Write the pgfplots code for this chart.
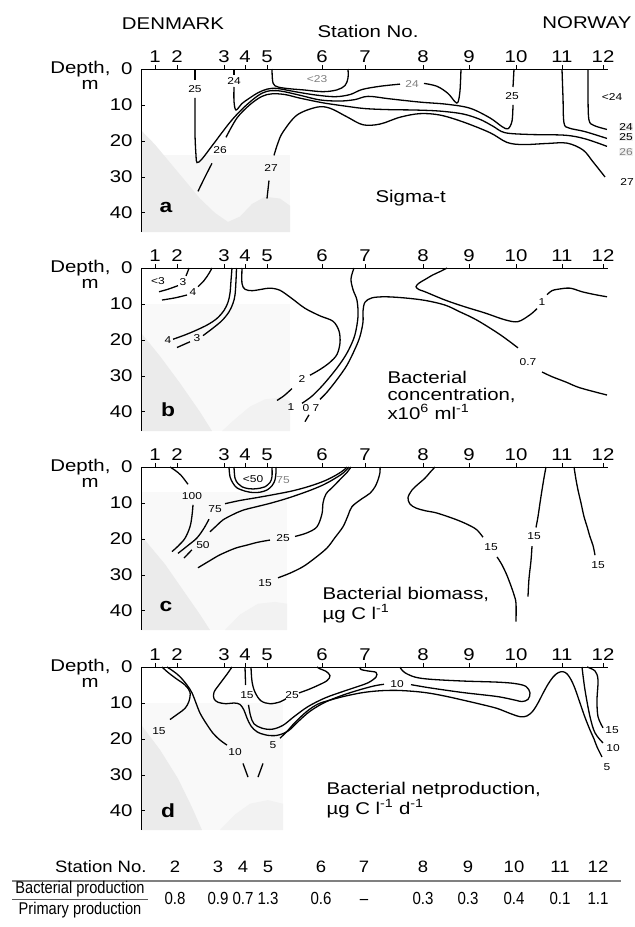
\documentclass[border=0pt]{standalone}
\usepackage{fontspec}
\setmainfont{Liberation Sans}[FakeStretch=1.2]
\newfontfamily\tabfont{Liberation Sans}[FakeStretch=1.12]
\newfontfamily\condfont{Liberation Sans}[FakeStretch=0.86]
\usepackage{pgfplots}
\pgfplotsset{compat=1.18}

\newcommand{\mainsize}{\fontsize{17}{19}\selectfont}
\pgfplotsset{
  section/.style={
    scale only axis, width=467pt, height=163pt,
    xmin=141, xmax=608, ymin=0, ymax=45.3, y dir=reverse,
    axis x line*=top, axis y line*=left,
    axis line style={-, line width=1pt},
    xtick={155,177,224,245,267,322,365,423,469,516,562,603},
    xticklabels={1,2,3,4,5,6,7,8,9,10,11,12},
    ytick={0,10,20,30,40},
    xtick align=outside, ytick align=inside,
    major tick length=4pt,
    tick style={black, line width=0.9pt},
    tick label style={font=\mainsize},
    /pgf/number format/assume math mode=true,
    yticklabel style={xshift=-5pt},
    xticklabel style={yshift=-1pt},
    clip=false, axis on top,
  },
  ctr/.style={black, line width=1.3pt, smooth, tension=0.55, no marks},
  land/.style={draw=none, fill=gray!#1, no marks},
}
\tikzset{lbl/.style={font=\fontsize{10}{11}\selectfont, inner sep=0.5pt}}

\begin{document}
\begin{tikzpicture}
\begin{scope}[x=1pt, y=-1pt]
  \path[use as bounding box] (0,0) rectangle (634,927);
  \node[font=\mainsize] at (173,24) {DENMARK};
  \node[font=\mainsize] at (368,31) {Station No.};
  \node[font=\mainsize] at (587,23) {NORWAY};
  \foreach \t in {69,268,467,667} {
    \node[font=\mainsize, anchor=east] at (114,\t) {Depth,};
    \node[font=\mainsize] at (90,\t+16) {m};
  }
\end{scope}

% ---------------- a: sigma-t ----------------
\begin{axis}[section, at={(141pt,-69pt)}, anchor=north west]
  \addplot[land=6] coordinates {(141,24) (290,24) (290,45.3) (141,45.3)} -- cycle;
  \addplot[land=16] coordinates {(141,17) (155,21) (170,26) (185,31) (200,36) (215,40) (228,42.5) (240,41) (252,37.5) (265,35.5) (280,36) (290,38) (290,45.3) (141,45.3)} -- cycle;
  % 23
  \addplot[ctr] coordinates {(272,0) (273,3.9) (278,5.0) (290,5.5) (303,5.8) (323,6.3) (337,5.8) (345,4.6) (348,2.5) (348,0)};
  % 24
  \addplot[ctr] coordinates {(234,0) (234,1.8)};
  \addplot[ctr] coordinates {(234,5) (234,9) (236,11.4) (242,9.6) (250,8) (258,6.6) (267,5.6) (277,5.4) (295,6.3) (315,7.2) (335,7.7) (350,7.1) (362,5.7) (380,4.8) (400,4.2)};
  \addplot[ctr] coordinates {(424,4.0) (437,4.8) (448,6.8) (455,9.1) (458,9.2) (460,6) (461,0)};
  \addplot[ctr] coordinates {(588,0) (588,8) (589,14.2) (594,15.7) (607,16.8)};
  % 25
  \addplot[ctr] coordinates {(195,0) (195,3)};
  \addplot[ctr] coordinates {(195,8) (195,18) (196,24) (197,26) (202,25) (213,21) (230,14.8) (243,10.9) (257,7.6) (267,6.2) (280,6.1) (300,7.3) (320,8.6) (340,8.9) (355,8.5) (368,7.6) (390,8.3) (420,9.2) (447,9.8) (470,10.9) (490,13.6) (502,16) (508,16.6) (512,14.5) (513,10)};
  \addplot[ctr] coordinates {(513,5) (514,0)};
  \addplot[ctr] coordinates {(562,0) (563,8) (564,15) (569,16.4) (585,17.4) (607,19.3)};
  % 26
  \addplot[ctr] coordinates {(198,34) (205,30) (212,26.2)};
  \addplot[ctr] coordinates {(226,19) (237,13.6) (250,9.9) (262,7.6) (272,6.9) (285,7.1) (300,8.1) (323,9.4) (345,10.3) (365,11) (390,11.3) (415,11.4) (440,11.7) (463,12.5) (480,14) (493,15.9) (505,17.7) (530,18.2) (565,18.4) (585,19.4) (607,21.5)};
  % 27
  \addplot[ctr] coordinates {(267,36) (269,31)};
  \addplot[ctr] coordinates {(274,24) (278,20.5) (283,17.5) (297,12.8) (317,10.6) (330,10.9) (347,13.3) (363,15.5) (380,15.3) (400,13.4) (420,12.4) (440,12.8) (463,14.7) (490,17.7) (507,20.4) (523,21) (547,20.7) (567,20.6) (583,22.5) (593,25.8) (605,30)};
  \node[lbl] at (axis cs:195,5.5) {25};
  \node[lbl] at (axis cs:234,3.4) {24};
  \node[lbl, text=gray] at (axis cs:317,2.8) {<23};
  \node[lbl] at (axis cs:220,22.5) {26};
  \node[lbl] at (axis cs:271,27.5) {27};
  \node[lbl, text=gray] at (axis cs:412,4.1) {24};
  \node[lbl] at (axis cs:512,7.5) {25};
  \node[lbl] at (axis cs:612,7.8) {<24};
  \node[lbl, fill=gray!12] at (axis cs:626,16.1) {24};
  \node[lbl, fill=gray!12] at (axis cs:626,18.9) {25};
  \node[lbl, fill=gray!12, text=gray] at (axis cs:626,23) {26};
  \node[lbl] at (axis cs:627,31.4) {27};
\end{axis}

% ---------------- b: bacterial concentration ----------------
\begin{axis}[section, at={(141pt,-268pt)}, anchor=north west]
  \addplot[land=5] coordinates {(141,10) (290,10) (290,45.3) (141,45.3)} -- cycle;
  \addplot[land=16] coordinates {(141,18) (160,24.5) (180,32) (200,40) (212,45.3) (141,45.3)} -- cycle;
  \addplot[land=10] coordinates {(222,45.3) (235,42) (250,38.5) (265,36.5) (280,36) (290,37) (290,45.3)} -- cycle;
  % 3 and 4 near Denmark
  \addplot[ctr] coordinates {(159,6.6) (168,5.9) (178,4.9)};
  \addplot[ctr] coordinates {(186,2.2) (188,0.8) (189,0)};
  \addplot[ctr] coordinates {(162,8.9) (175,8.3) (187,7.5)};
  \addplot[ctr] coordinates {(198,5.2) (204,3.5) (209,1.5) (212,0)};
  \addplot[ctr] coordinates {(173,19.8) (185,18.6) (197,17.2) (208,15.7) (217,14) (224,11.8) (228,9.5) (230,7) (231,3.5) (232,0)};
  \addplot[ctr] coordinates {(177,22.1) (190,20.5)};
  \addplot[ctr] coordinates {(203,18.8) (213,16.7) (222,14.6) (229,12.2) (233,9.8) (235,7.5) (236,3.5) (236.5,0)};
  % 2
  \addplot[ctr] coordinates {(242,0) (242,4.3) (245,5.9) (252,6.3) (262,5.9) (270,5.6) (280,6.2) (292,8.5) (305,11.2) (320,13.3) (333,14.8) (339,17.5) (340,20.8) (337,24) (330,26.2) (320,28.2) (310,29.8)};
  \addplot[ctr] coordinates {(292,33.5) (284,35.5) (277,36.8)};
  % 1
  \addplot[ctr] coordinates {(354,0) (351,3) (353,6) (357,9) (358,13.5) (355,18.5) (350,22) (344,25) (335,28.5) (323,32.5) (312,35.6) (302,37.6)};
  \addplot[ctr] coordinates {(447,0) (440,1) (433,1.9) (425,3.2) (419,4.2) (416,5.2) (419,6) (425,6.6) (445,8.9) (465,10.8) (485,12.5) (505,14.4) (518,14.9) (530,13) (537,11.3)};
  \addplot[ctr] coordinates {(547,7.4) (552,6.3) (558,5.9) (570,5.6) (582,6.6) (595,7.4) (607,8)};
  % 0.7
  \addplot[ctr] coordinates {(607,35.3) (580,33.3) (566,31.7) (552,30.2) (542,28.9)};
  \addplot[ctr] coordinates {(518,22.2) (500,18.5) (477,14.5) (460,12.2) (445,10.3) (425,9.0) (404,8.3) (385,8.0) (372,8.3) (365,9.5) (363,12) (363,15) (360,19) (355,22.5) (347,27) (337,31) (327,34.5) (320,36.5)};
  \addplot[ctr] coordinates {(309,40.8) (305,42.7)};
  \node[lbl] at (axis cs:158,3.6) {<3};
  \node[lbl] at (axis cs:183,3.9) {3};
  \node[lbl] at (axis cs:193,6.6) {4};
  \node[lbl] at (axis cs:168,20) {4};
  \node[lbl] at (axis cs:197,19.5) {3};
  \node[lbl] at (axis cs:302,30.8) {2};
  \node[lbl] at (axis cs:291,38.7) {1};
  \node[lbl] at (axis cs:311,38.9) {0 7};
  \node[lbl] at (axis cs:542,9.5) {1};
  \node[lbl] at (axis cs:528,26) {0.7};
\end{axis}

% ---------------- c: bacterial biomass ----------------
\begin{axis}[section, at={(141pt,-467pt)}, anchor=north west]
  \addplot[land=5] coordinates {(141,7) (287,7) (287,45.3) (141,45.3)} -- cycle;
  \addplot[land=16] coordinates {(141,19) (165,27) (185,35) (200,41) (210,45.3) (141,45.3)} -- cycle;
  \addplot[land=10] coordinates {(225,45.3) (240,41) (258,38) (275,37.5) (287,38) (287,45.3)} -- cycle;
  % 100
  \addplot[ctr] coordinates {(170,0) (175,0.9) (181,2.3) (188,4.8)};
  \addplot[ctr] coordinates {(193,10.5) (192,13.5) (190,16.6) (185,19.8) (178,22) (172,23.5)};
  % 75
  \addplot[ctr] coordinates {(178,24) (188,21.8) (197,19.7) (204,17) (209,14.5)};
  \addplot[ctr] coordinates {(225,10.2) (240,9.3) (257,8.5) (275,7.6) (293,6.6) (310,5.3) (325,3.8) (337,2.1) (344,0.8) (347,0)};
  \addplot[ctr] coordinates {(229,0) (230,2.7) (233,4.5) (237,5.8) (245,6.7) (253,7.1) (260,7.0) (267,6.4) (272,5.2) (275,3.6) (276,1.5) (276,0)};
  % 50
  \addplot[ctr] coordinates {(184,25.3) (192,23)};
  \addplot[ctr] coordinates {(210,18) (217,16.2) (223,14.7) (233,13.2) (243,12) (257,11) (270,10.1) (285,8.9) (297,7.8) (310,6.5) (323,5) (333,3.5) (343,1.7) (349,0)};
  \addplot[ctr] coordinates {(234,0) (235,3.1) (238,4.6) (242,5.5) (248,6.0) (253,6.1) (260,5.9) (265,5.5) (270,4.3) (272,2.7) (272,0)};
  % 25
  \addplot[ctr] coordinates {(198,28) (210,26) (220,24.4) (235,22.6) (247,21.7) (258,20.9) (270,20.3)};
  \addplot[ctr] coordinates {(295,19.3) (307,18.3) (317,16.6) (322,13) (323,10) (326,7.5) (333,5.5) (341,3.2) (347,1.5) (351,0)};
  % 15
  \addplot[ctr] coordinates {(278,30.8) (290,29.5) (303,27.7) (315,25.3) (327,22.5) (335,19.6) (343,16.6) (348,13.5) (352,11) (362,8.8) (370,7.3) (375,5.5) (378,3.6) (380,1.5) (380,0)};
  \addplot[ctr] coordinates {(435,0) (430,1.5) (425,3.1) (418,4.8) (412,6.4) (408,8.5) (410,10.3) (416,11.4) (426,12.2) (437,12.8) (457,14.7) (470,16.3) (477,17.5) (483,19.5)};
  \addplot[ctr] coordinates {(497,25) (501,26.7) (506,29.5) (510,32.3) (514,35.5) (516,37.9) (516,43)};
  \addplot[ctr] coordinates {(546,0) (544,3) (542,6.4) (540,10) (538,13.8) (536,16.8)};
  \addplot[ctr] coordinates {(532,22) (531,26) (529,31) (528,36)};
  \addplot[ctr] coordinates {(574,0) (576,3.5) (578,6.4) (581,10) (584,13.8) (587,16.5) (590,19.4) (593,21.8) (595,24.5)};
  \node[lbl] at (axis cs:192,8.2) {100};
  \node[lbl] at (axis cs:215,11.6) {75};
  \node[lbl] at (axis cs:203,21.7) {50};
  \node[lbl] at (axis cs:253,3.4) {<50};
  \node[lbl, text=gray] at (axis cs:283,3.6) {75};
  \node[lbl] at (axis cs:283,19.7) {25};
  \node[lbl] at (axis cs:265,32.3) {15};
  \node[lbl] at (axis cs:491,22.3) {15};
  \node[lbl] at (axis cs:534,19.3) {15};
  \node[lbl] at (axis cs:598,27.3) {15};
\end{axis}

% ---------------- d: bacterial net production ----------------
\begin{axis}[section, at={(141pt,-667pt)}, anchor=north west]
  \addplot[land=5] coordinates {(141,10) (283,10) (283,45.3) (141,45.3)} -- cycle;
  \addplot[land=16] coordinates {(141,16) (160,23) (178,31) (192,39) (202,45.3) (141,45.3)} -- cycle;
  \addplot[land=10] coordinates {(220,45.3) (235,41) (250,38) (268,37) (283,38) (283,45.3)} -- cycle;
  % left group (15 and 10)
  \addplot[ctr] coordinates {(162,0) (168,1.5) (176,3.2) (185,5) (190,7) (189,9.5) (185,11.5) (178,13) (170,14.6)};
  \addplot[ctr] coordinates {(167,0) (174,1.3) (180,2.7) (187,5) (192,7.2) (196,10) (200,12.8) (206,15.6) (213,18.4) (220,20.3) (227,21.7)};
  \addplot[ctr] coordinates {(243,26.8) (248,30.6)};
  \addplot[ctr] coordinates {(263,26.8) (258,30.6)};
  % 10: loop off the surface at station 3, bundle, loop towards station 10
  \addplot[ctr] coordinates {(232,0) (227,2) (220,4.6) (214,7) (214,8.8) (218,9.8) (226,10.2) (234,10) (240,10.4) (244,12) (247,14.2) (251,16.4) (257,18) (266,18.9) (277,19) (288,17.8) (298,15.2) (310,12.3) (325,9.8) (342,7.9) (360,6.3) (375,5.2) (384,4.8)};
  \addplot[ctr] coordinates {(411,4.9) (430,5.8) (463,7.1) (497,8.2) (515,9.2) (522,9.6) (528,9) (530,7.2) (526,5.4) (515,4.6) (497,4.2) (463,3.9) (430,3.4) (415,2.8) (405,1.6) (401,0.5) (400,0)};
  % 15
  \addplot[ctr] coordinates {(245,0) (245.3,2.5) (245.6,5)};
  \addplot[ctr] coordinates {(248.5,10.5) (250.5,13.5) (254,15.8) (262,17) (272,17.3) (283,16.2) (294,13.8) (308,11) (325,8.6) (343,6.8) (358,5.4) (368,4.4) (376,2.8) (376,1.5) (368,1.1) (361,0.7) (360,0)};
  % 25
  \addplot[ctr] coordinates {(251,0) (252,4) (255,7) (261,9.4) (270,10.2) (280,9.7) (286,8.8)};
  \addplot[ctr] coordinates {(299,7.2) (308,6.3) (318,5.1) (327,3.8) (330,2.4) (326,1.2) (320,0.5) (317,0)};
  % 5
  \addplot[ctr] coordinates {(280,19.8) (288,17.6) (295,15.4) (307,12.3) (318,10.3) (330,9.2) (345,8.1) (363,7.1) (380,6.6) (397,6.5) (415,6.8) (430,7.3) (447,8.2) (463,9.2) (480,10.3) (497,11.5) (510,12.9) (520,13.8) (527,13.6) (533,12.2) (538,10) (543,7.3) (548,4.8) (553,2.8) (558,1.6) (563,1.3) (567,1.9) (571,3.5) (575,6) (580,10) (585,14) (590,17.5) (594,20) (597,22.2) (602,25)};
  % right group
  \addplot[ctr] coordinates {(587,0) (595,1.1) (598,3.6) (597,9.2) (598,13.8) (603,16.9)};
  \addplot[ctr] coordinates {(582,0) (585,6.4) (590,13.8) (595,18.3) (603,21.1)};
  \node[lbl] at (axis cs:159,17.9) {15};
  \node[lbl] at (axis cs:235,23.6) {10};
  \node[lbl] at (axis cs:273,21.8) {5};
  \node[lbl] at (axis cs:247,7.8) {15};
  \node[lbl] at (axis cs:292,7.9) {25};
  \node[lbl] at (axis cs:397,4.7) {10};
  \node[lbl] at (axis cs:612,17.6) {15};
  \node[lbl] at (axis cs:613,22.5) {10};
  \node[lbl] at (axis cs:607,27.7) {5};
\end{axis}

\begin{scope}[x=1pt, y=-1pt, every node/.style={font=\mainsize}]
  \node[anchor=west] at (372,198) {Sigma-t};
  \node[anchor=base west] at (384,383) {Bacterial};
  \node[anchor=base west] at (384,400) {concentration,};
  \node[anchor=base west] at (384,419) {x10\textsuperscript{6} ml\textsuperscript{-1}};
  \node[anchor=base west] at (319,599) {Bacterial biomass,};
  \node[anchor=base west] at (319,619) {µg C l\textsuperscript{-1}};
  \node[anchor=base west] at (323,794) {Bacterial netproduction,};
  \node[anchor=base west] at (323,814) {µg C l\textsuperscript{-1} d\textsuperscript{-1}};
  \node[font=\fontsize{19}{20}\selectfont\bfseries] at (166,207) {a};
  \node[font=\fontsize{19}{20}\selectfont\bfseries] at (168,410) {b};
  \node[font=\fontsize{19}{20}\selectfont\bfseries] at (166,606) {c};
  \node[font=\fontsize{19}{20}\selectfont\bfseries] at (168,811) {d};
  % ratio table
  \node[anchor=east, font=\fontsize{16.5}{18}\tabfont] at (150,867) {Station No.};
  \foreach \x/\s in {175/2,218/3,243/4,268/5,321/6,364/7,423/8,468/9,514/10,560/11,598/12}
    \node[font=\fontsize{16.5}{18}\tabfont] at (\x,867) {\s};
  \draw[gray, line width=1.2pt] (12,881) -- (621,881);
  \node[font=\fontsize{17}{18}\condfont] at (80,889) {Bacterial production};
  \draw[gray!70!black, line width=0.8pt] (12,899) -- (148,899);
  \node[font=\fontsize{17}{18}\condfont] at (80,910) {Primary production};
  \foreach \x/\v in {175/0.8,218/0.9,243/0.7,268/1.3,321/0.6,364/\textendash,423/0.3,468/0.3,514/0.4,560/0.1,598/1.1}
    \node[anchor=base, font=\fontsize{17.5}{18}\condfont] at (\x,904) {\v};
\end{scope}
\end{tikzpicture}
\end{document}
